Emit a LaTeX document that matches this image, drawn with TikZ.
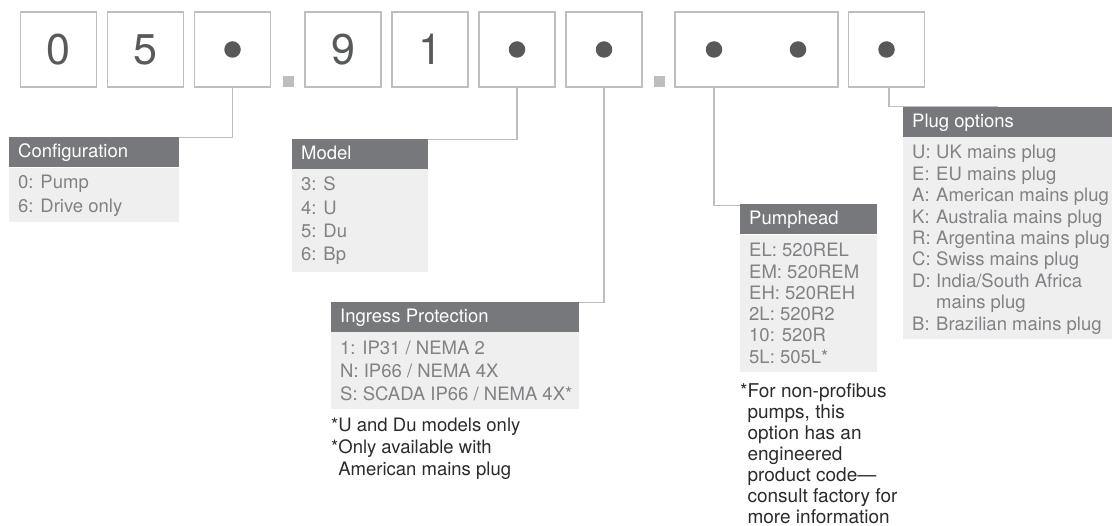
\documentclass[tikz,border=0pt]{standalone}
\usepackage{fontspec}
\setmainfont{TeX Gyre Heros}
\definecolor{boxline}{HTML}{BCBEC0}
\definecolor{hdr}{HTML}{77787B}
\definecolor{bodyfill}{HTML}{EFEFEF}
\definecolor{bodytext}{HTML}{808285}
\definecolor{digit}{HTML}{58595B}
\definecolor{note}{HTML}{2B2B2B}
\newcommand{\pl}[2]{\makebox[24pt][l]{#1}#2}
\tikzset{
 codebox/.style={draw=boxline, line width=1.6pt, minimum width=76pt, minimum height=75pt, inner sep=0pt, text=digit, font=\fontsize{43}{43}\selectfont},
 sepsq/.style={fill=boxline, minimum size=11pt, inner sep=0pt},
 bullet/.style={circle, fill=digit, minimum size=16.5pt, inner sep=0pt},
 hdrbox/.style={fill=hdr, inner sep=0pt, anchor=north west, minimum height=30pt},
 bodybox/.style={fill=bodyfill, inner sep=0pt, anchor=north west},
 hdrtext/.style={text=white, anchor=base west, inner sep=0pt, font=\fontsize{18.5}{22}\selectfont},
 bodytxt/.style={text=bodytext, anchor=base west, inner sep=0pt, font=\fontsize{18.5}{22}\selectfont},
 notetxt/.style={text=note, anchor=base west, inner sep=0pt, font=\fontsize{18.5}{22}\selectfont},
 conn/.style={draw=boxline, line width=1.5pt},
}
\begin{document}
\begin{tikzpicture}[x=1pt,y=-1pt]
\useasboundingbox (0,0) rectangle (1115,526);
% code boxes
\node[codebox] (b1) at (58.5,49.5) {0};
\node[codebox] (b2) at (145.5,49.5) {5};
\node[codebox] (b3) at (232.5,49.5) {};
\node[bullet] (d3) at (b3) {};
\node[sepsq] (s1) at (288.5,81.5) {};
\node[codebox] (b4) at (343,49.5) {9};
\node[codebox] (b5) at (430,49.5) {1};
\node[codebox] (b6) at (517,49.5) {};
\node[bullet] (d6) at (b6) {};
\node[codebox] (b7) at (604,49.5) {};
\node[bullet] (d7) at (b7) {};
\node[sepsq] (s2) at (659.5,81.5) {};
\node[codebox, minimum width=163pt] (b8) at (756.5,49.5) {};
\node[bullet] (d8a) at (714,49.5) {};
\node[bullet] (d8b) at (798,49.5) {};
\node[codebox] (b9) at (886.5,49.5) {};
\node[bullet] (d9) at (b9) {};

% Configuration
\node[bodybox, minimum width=170pt, minimum height=54pt] (cfgb) at (9,168) {};
\node[hdrbox, minimum width=170pt] (cfgh) at (9,137) {};
\node[hdrtext] (cfgt) at (18,158) {Configuration};
\foreach \t [count=\i] in {0: Pump, 6: Drive only}
  \node[bodytxt] (cfg\i) at (18,{189+(\i-1)*23.5}) {\t};

% Model
\node[bodybox, minimum width=136pt, minimum height=103pt] (modb) at (292,169) {};
\node[hdrbox, minimum width=136pt] (modh) at (292,139) {};
\node[hdrtext] (modt) at (301,159.5) {Model};
\foreach \t [count=\i] in {3: S, 4: U, 5: Du, 6: Bp}
  \node[bodytxt] (mod\i) at (301,{191+(\i-1)*23.2}) {\t};

% Ingress Protection
\node[bodybox, minimum width=248pt, minimum height=77pt] (ingb) at (331,332) {};
\node[hdrbox, minimum width=248pt] (ingh) at (331,302) {};
\node[hdrtext] (ingt) at (340,322.5) {Ingress Protection};
\foreach \t [count=\i] in {1: IP31 / NEMA 2, N: IP66 / NEMA 4X, S: SCADA IP66 / NEMA 4X*}
  \node[bodytxt] (ing\i) at (340,{354+(\i-1)*23}) {\t};
\foreach \t [count=\i] in {*U and Du models only, *Only available with, \phantom{*}American mains plug}
  \node[notetxt] (ingn\i) at (331,{431+(\i-1)*22}) {\t};

% Pumphead
\node[bodybox, minimum width=137pt, minimum height=137pt] (pumb) at (740,235) {};
\node[hdrbox, minimum width=137pt] (pumh) at (740,204) {};
\node[hdrtext] (pumt) at (749,225) {Pumphead};
\foreach \t [count=\i] in {EL: 520REL, EM: 520REM, EH: 520REH, 2L: 520R2, 10: 520R, 5L: 505L*}
  \node[bodytxt] (pum\i) at (749,{257+(\i-1)*21.2}) {\t};
\foreach \t [count=\i] in {*For non-profibus, {\phantom{*}pumps, this}, \phantom{*}option has an, \phantom{*}engineered, \phantom{*}product code—, \phantom{*}consult factory for, \phantom{*}more information}
  \node[notetxt, font=\fontsize{19}{22}\selectfont] (pumn\i) at (740,{397+(\i-1)*21.15}) {\t};

% Plug options
\node[bodybox, minimum width=209pt, minimum height=202pt] (plgb) at (903,137) {};
\node[hdrbox, minimum width=209pt] (plgh) at (903,107) {};
\node[hdrtext] (plgt) at (912,127.5) {Plug options};
\foreach \t [count=\i] in {\pl{U:}{UK mains plug}, \pl{E:}{EU mains plug}, \pl{A:}{American mains plug}, \pl{K:}{Australia mains plug}, \pl{R:}{Argentina mains plug}, \pl{C:}{Swiss mains plug}, \pl{D:}{India/South Africa}, \pl{}{mains plug}, \pl{B:}{Brazilian mains plug}}
  \node[bodytxt] (plg\i) at (912,{159+(\i-1)*21.4}) {\t};

% connectors
\draw[conn] (b3.south) |- ([yshift=-0.7pt]cfgh.north east);
\draw[conn] (b6.south) |- ([yshift=-0.7pt]modh.north east);
\draw[conn] (b7.south) |- ([yshift=-0.7pt]ingh.north east);
\draw[conn] (b8.south -| d8a) |- ([yshift=-1.7pt]pumh.north west);
\draw[conn] ([xshift=2.5pt]b9.south) |- ([xshift=95pt,yshift=0.6pt]plgh.north west);
\end{tikzpicture}
\end{document}
